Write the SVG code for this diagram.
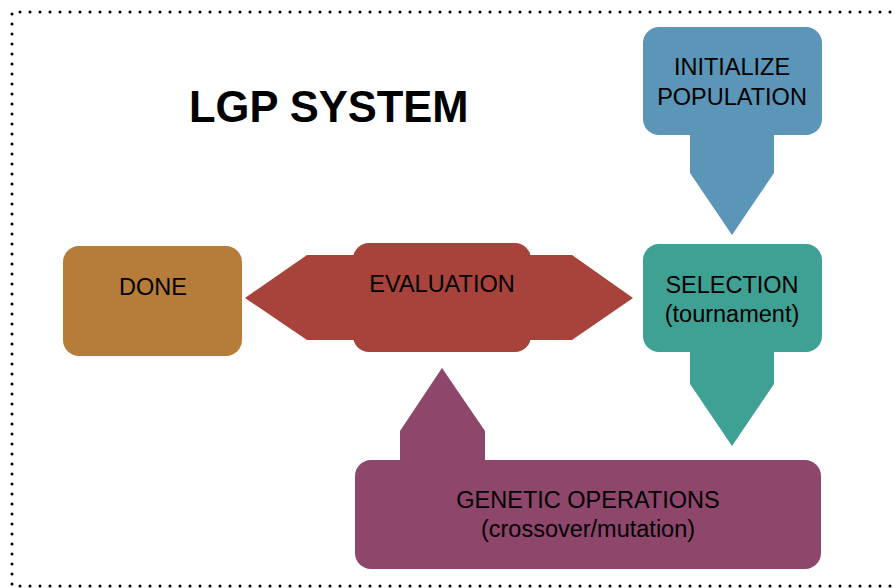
<svg xmlns="http://www.w3.org/2000/svg" width="896" height="588" viewBox="0 0 896 588">
<style>
.lbl{font-family:"Liberation Sans",Arial,sans-serif;font-size:23.5px;fill:#000;text-anchor:middle}
.title{font-family:"Liberation Sans",Arial,sans-serif;font-size:43.5px;font-weight:bold;fill:#000}
.frame{fill:none;stroke:#000;stroke-width:3;stroke-linecap:round;stroke-dasharray:0 10}
</style>
<rect width="896" height="588" fill="#fff"/>
<path class="frame" d="M900 12 H12 V586 H900"/>
<text class="title" x="189" y="122">LGP SYSTEM</text>
<g id="connectors">
  <polygon id="arrow-init-sel" points="690,130 774,130 774,173 732,235 690,173" fill="#5b95b7"/>
  <polygon id="arrow-sel-gen" points="690,348 774,348 774,384 732,446 690,384" fill="#3fa193"/>
  <polygon id="arrow-gen-eval" points="400,465 485,465 485,431 442,368 400,431" fill="#8e466b"/>
  <polygon id="arrow-eval-sel" points="525,255 572,255 633,298 572,340 525,340" fill="#a7433b"/>
  <polygon id="arrow-eval-done" points="360,255 307,255 245,298 307,340 360,340" fill="#a7433b"/>
</g>
<g id="init">
  <rect x="643" y="27" width="179" height="108" rx="16" fill="#5b95b7"/>
  <text class="lbl" x="732" y="75">INITIALIZE</text>
  <text class="lbl" x="732" y="105">POPULATION</text>
</g>
<g id="selection">
  <rect x="643" y="244" width="179" height="108" rx="16" fill="#3fa193"/>
  <text class="lbl" x="732" y="293">SELECTION</text>
  <text class="lbl" x="732" y="322">(tournament)</text>
</g>
<g id="evaluation">
  <rect x="353" y="243" width="178" height="109" rx="16" fill="#a7433b"/>
  <text class="lbl" x="442" y="292">EVALUATION</text>
</g>
<g id="done">
  <rect x="63" y="246" width="179" height="110" rx="16" fill="#b67d3a"/>
  <text class="lbl" x="153" y="295">DONE</text>
</g>
<g id="genetic">
  <rect x="355" y="460" width="466" height="109" rx="16" fill="#8e466b"/>
  <text class="lbl" x="588" y="508">GENETIC OPERATIONS</text>
  <text class="lbl" x="588" y="537">(crossover/mutation)</text>
</g>
</svg>
